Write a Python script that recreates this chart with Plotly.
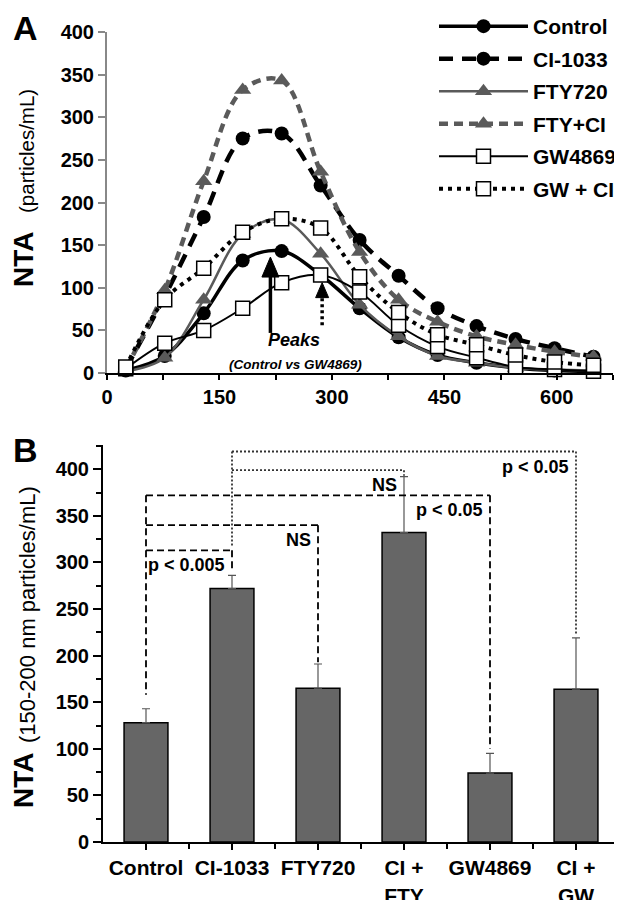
import plotly.graph_objects as go

# ---------------- Panel A data ----------------
size_nm = [25, 77, 129, 181, 233, 285, 337, 389, 441, 493, 545, 597, 649]
control = [3, 20, 70, 132, 143, 115, 76, 42, 21, 12, 6, 3, 2]
ci1033 = [5, 90, 183, 275, 281, 220, 156, 114, 76, 55, 40, 29, 19]
fty720 = [2, 18, 86, 163, 180, 140, 80, 43, 20, 12, 6, 4, 3]
fty_ci = [5, 97, 225, 332, 343, 236, 142, 86, 60, 43, 33, 25, 19]
gw4869 = [5, 35, 50, 76, 106, 115, 95, 56, 31, 18, 7, 4, 2]
gw_ci = [7, 86, 123, 165, 181, 170, 113, 71, 45, 33, 21, 13, 9]
series_names = ["Control", "CI-1033", "FTY720", "FTY+CI", "GW4869", "GW + CI"]

peak_x = [218, 287]        # Control peak, GW4869 peak
peak_tip = [136, 106]
peak_base = [47, 56]

# ---------------- Panel B data ----------------
groups = ["Control", "CI-1033", "FTY720", "CI +<br>FTY", "GW4869", "CI +<br>GW"]
means = [128, 272, 165, 332, 74, 164]
errs = [15, 14, 26, 60, 21, 55]
# comparisons: (group i, group j, bracket level, left-leg bottom, right-leg bottom, style, label)
comparisons = [
    (0, 1, 313, None, 290, "dash", "p < 0.005"),
    (0, 2, 340, None, 193, "dash", "NS"),
    (0, 4, 372, 158, 100, "dash", "p < 0.05"),
    (1, 3, 399, None, 393, "dot", "NS"),
    (1, 5, 419, 316, 222, "dot", "p < 0.05"),
]

FONT = "Liberation Sans, Arial, sans-serif"
GRAY = "#5a5a5a"
W, H = 622, 900
OFF = 8  # page offset of the figure inside the browser window


def fx(px):
    return (px - OFF) / W


def fy(py):
    return 1 - (py - OFF) / H


fig = go.Figure()

styles = [
    dict(line=dict(color="black", width=3.5), marker=dict(symbol="circle", size=14, color="black")),
    dict(line=dict(color="black", width=4.5, dash="14px,9px"), marker=dict(symbol="circle", size=14, color="black")),
    dict(line=dict(color=GRAY, width=2.5), marker=dict(symbol="triangle-up", size=15, color=GRAY)),
    dict(line=dict(color=GRAY, width=4.5, dash="9px,6px"), marker=dict(symbol="triangle-up", size=15, color=GRAY)),
    dict(line=dict(color="black", width=2), marker=dict(symbol="square", size=14, color="white", line=dict(color="black", width=1.5))),
    dict(line=dict(color="black", width=4, dash="4px,5px"), marker=dict(symbol="square", size=14, color="white", line=dict(color="black", width=1.5))),
]
for name, vals, st in zip(series_names, [control, ci1033, fty720, fty_ci, gw4869, gw_ci], styles):
    st["line"]["shape"] = "spline"
    st["line"]["smoothing"] = 1.0
    fig.add_trace(go.Scatter(x=size_nm, y=vals, name=name, mode="lines+markers",
                             line=st["line"], marker=st["marker"], cliponaxis=False,
                             legendgroup=name, xaxis="x", yaxis="y"))

# Panel B bars
fig.add_trace(go.Bar(x=list(range(len(groups))), y=means, width=0.51, showlegend=False,
                     marker=dict(color="#666666", line=dict(color="black", width=1.5)),
                     error_y=dict(type="data", array=errs, arrayminus=[0] * len(errs),
                                  color="#555555", thickness=1.2, width=4),
                     xaxis="x2", yaxis="y2"))

shapes = []
annotations = []

# Peak arrows in panel A
for k, (px, tip, base) in enumerate(zip(peak_x, peak_tip, peak_base)):
    head_h = 20 if k == 0 else 15
    head_w = 8.5 if k == 0 else 6.5
    shapes.append(dict(type="line", xref="x", yref="y", x0=px, x1=px, y0=base, y1=tip - head_h / 0.8525 + 1,
                       line=dict(color="black", width=3.5, dash="solid" if k == 0 else "3px,3px")))
    shapes.append(dict(type="path", xref="x", yref="y", xsizemode="pixel", ysizemode="pixel",
                       xanchor=px, yanchor=tip,
                       path=f"M0,0 L{-head_w},{-head_h} L{head_w},{-head_h} Z",
                       fillcolor="black", line=dict(color="black", width=1)))

annotations.append(dict(x=249, y=39, xref="x", yref="y", text="<b><i>Peaks</i></b>", showarrow=False,
                        font=dict(family=FONT, size=18, color="black")))
annotations.append(dict(x=252, y=10.5, xref="x", yref="y", text="<b><i>(Control vs GW4869)</i></b>",
                        showarrow=False, font=dict(family=FONT, size=13.5, color="black")))

# Significance brackets in panel B
for (i, j, lvl, lb, rb, sty, lab) in comparisons:
    dash = "7px,4px" if sty == "dash" else "2px,2px"
    lw = 1.8
    col = "black" if sty == "dash" else "#333333"
    shapes.append(dict(type="line", xref="x2", yref="y2", x0=i, x1=j, y0=lvl, y1=lvl,
                       line=dict(color=col, width=lw, dash=dash)))
    shapes.append(dict(type="line", xref="x2", yref="y2", x0=j, x1=j, y0=lvl, y1=rb,
                       line=dict(color=col, width=lw, dash=dash)))
    if lb is not None:
        shapes.append(dict(type="line", xref="x2", yref="y2", x0=i, x1=i, y0=lvl, y1=lb,
                           line=dict(color=col, width=lw, dash=dash)))
    annotations.append(dict(x=j, y=lvl, xref="x2", yref="y2", text=f"<b>{lab}</b>", showarrow=False,
                            xanchor="right", yanchor="top", xshift=-5, yshift=-3,
                            font=dict(family=FONT, size=18, color="black")))


def paper_text(px, py, text, size, angle=0):
    return dict(x=fx(px), y=fy(py), xref="paper", yref="paper", text=text, showarrow=False,
                xanchor="center", yanchor="middle", textangle=angle,
                font=dict(family=FONT, size=size, color="black"))


# Panel letters
annotations.append(paper_text(25, 28, "<b>A</b>", 34))
annotations.append(paper_text(25, 450, "<b>B</b>", 34))

# Y-axis titles (bold "NTA" + regular unit text, rotated)
annotations.append(paper_text(23, 259, "<b>NTA</b>", 28, -90))
annotations.append(paper_text(27, 151, "(particles/mL)", 20.5, -90))
annotations.append(paper_text(23, 780, "<b>NTA</b>", 28, -90))
annotations.append(paper_text(27, 615, "(150-200 nm particles/mL)", 22, -90))

tickfont = dict(family=FONT, size=20, color="black", weight="bold")

fig.update_layout(
    template="none",
    width=W, height=H,
    margin=dict(l=0, r=0, t=0, b=0, pad=0, autoexpand=False),
    paper_bgcolor="white", plot_bgcolor="white",
    font=dict(family=FONT, color="black"),
    showlegend=True,
    legend=dict(x=426 / W, y=1 + 2 / H, xanchor="left", yanchor="top",
                font=dict(family=FONT, size=21, color="black", weight="bold"),
                itemwidth=89, tracegroupgap=2.2, bgcolor="rgba(0,0,0,0)", traceorder="grouped"),
    xaxis=dict(domain=[fx(107), fx(613)], anchor="y", range=[0, 675], automargin=False,
               tickmode="array", tickvals=list(range(0, 676, 75)),
               ticktext=[str(v) if v % 150 == 0 else "" for v in range(0, 676, 75)],
               ticks="outside", ticklen=5, tickwidth=1.5, tickcolor="black",
               showline=True, linecolor="black", linewidth=2,
               showgrid=False, zeroline=False, tickfont=tickfont),
    yaxis=dict(domain=[fy(373), fy(32)], anchor="x", range=[0, 400], dtick=50, automargin=False,
               ticks="outside", ticklen=7, tickwidth=1.5, tickcolor="#888888",
               showline=True, linecolor="#888888", linewidth=2,
               showgrid=False, zeroline=False, tickfont=tickfont),
    xaxis2=dict(domain=[fx(103), fx(619)], anchor="y2", range=[-0.5, 5.5], automargin=False,
                tickmode="array", tickvals=list(range(len(groups))), ticktext=groups,
                ticks="outside", ticklen=6, tickwidth=1.5, tickcolor="black",
                minor=dict(tickmode="array", tickvals=[k + 0.5 for k in range(len(groups) - 1)],
                           ticks="outside", ticklen=5, tickwidth=1.5, tickcolor="black"),
                showline=True, linecolor="black", linewidth=2,
                showgrid=False, zeroline=False, tickfont=dict(family=FONT, size=21, color="black", weight="bold")),
    yaxis2=dict(domain=[fy(842), fy(445)], anchor="x2", range=[0, 426], dtick=50, automargin=False,
                ticks="outside", ticklen=8, tickwidth=1.5, tickcolor="black",
                minor=dict(dtick=25, ticks="outside", ticklen=5, tickwidth=1.5, tickcolor="black"),
                showline=True, linecolor="black", linewidth=2,
                showgrid=False, zeroline=False, tickfont=tickfont),
    shapes=shapes,
    annotations=annotations,
)

fig.write_html("out.html")
